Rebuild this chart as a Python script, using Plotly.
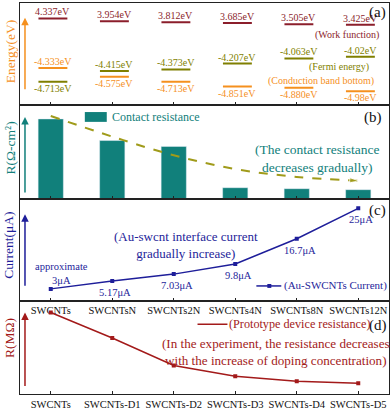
import plotly.graph_objects as go

# ---- data ----
categories_c = ["SWCNTs", "SWCNTsN", "SWCNTs2N", "SWCNTs4N", "SWCNTs8N", "SWCNTs12N"]
categories_d = ["SWCNTs", "SWCNTs-D1", "SWCNTs-D2", "SWCNTs-D3", "SWCNTs-D4", "SWCNTs-D5"]

work_function = [4.337, 3.954, 3.812, 3.685, 3.505, 3.425]
fermi_energy = [-4.713, -4.415, -4.373, -4.207, -4.063, -4.02]
cb_bottom = [-4.333, -4.575, -4.713, -4.851, -4.880, -4.98]
wf_labels = ["4.337eV", "3.954eV", "3.812eV", "3.685eV", "3.505eV", "3.425eV"]
fermi_labels = ["-4.713eV", "-4.415eV", "-4.373eV", "-4.207eV", "-4.063eV", "-4.02eV"]
cb_labels = ["-4.333eV", "-4.575eV", "-4.713eV", "-4.851eV", "-4.880eV", "-4.98eV"]

contact_res = [8.1, 5.9, 5.3, 1.1, 1.0, 0.9]
contact_trend = [8.4, 6.3, 4.4, 3.0, 2.2, 1.8]

current_ua = [3, 5.17, 7.03, 9.8, 16.7, 25]
current_labels = ["approximate<br>3μA", "5.17μA", "7.03μA", "9.8μA", "16.7μA", "25μA"]

device_res = [8.3, 5.7, 2.9, 1.8, 1.3, 1.1]

# ---- styling ----
FONT = "Liberation Serif"
ORANGE = "#F5901E"
OLIVE = "#7F7F00"
TREND = "#A09B1A"
WF_RED = "#8B1E2B"
TEAL = "#11807B"
NAVY = "#1E1E9A"
DRED = "#A31A1A"
FRAME = "#222222"

W, H = 392, 412
ML, MR, MT, MB = 20, 2, 2, 12


def px(x, y):
    # pixel -> paper coords
    return (x - ML) / (W - ML - MR), (H - MB - y) / (H - MT - MB)


def segments(vals, left=-0.2, right=0.27):
    x, y = [], []
    for i, v in enumerate(vals):
        x += [i + left, i + right, None]
        y += [v, v, None]
    return x, y


xs = list(range(len(work_function)))
fig = go.Figure()

# (a) energy levels
sx, sy = segments(work_function)
fig.add_trace(go.Scatter(x=sx, y=sy, mode="lines", line=dict(color=WF_RED, width=2),
                         xaxis="x", yaxis="y2"))
sx, sy = segments(fermi_energy)
fig.add_trace(go.Scatter(x=sx, y=sy, mode="lines", line=dict(color=OLIVE, width=2),
                         xaxis="x", yaxis="y"))
sx, sy = segments(cb_bottom)
fig.add_trace(go.Scatter(x=sx, y=sy, mode="lines", line=dict(color=ORANGE, width=2),
                         xaxis="x", yaxis="y"))

# (b) contact resistance
fig.add_trace(go.Bar(x=xs, y=contact_res, width=0.41, marker_color=TEAL,
                     xaxis="x2", yaxis="y3"))
fig.add_trace(go.Scatter(x=xs, y=contact_trend, mode="lines+markers",
                         line=dict(color=TREND, width=2, dash="dash", shape="spline"),
                         marker=dict(symbol="arrow", angleref="previous", color=TREND,
                                     size=[0, 0, 0, 0, 0, 9]),
                         xaxis="x2", yaxis="y3"))

# (c) current
fig.add_trace(go.Scatter(x=xs, y=current_ua, mode="lines+markers",
                         line=dict(color=NAVY, width=1.5),
                         marker=dict(symbol="square", size=4, color=NAVY),
                         xaxis="x3", yaxis="y4"))

# (d) device resistance
fig.add_trace(go.Scatter(x=xs, y=device_res, mode="lines+markers",
                         line=dict(color=DRED, width=1.5),
                         marker=dict(symbol="square", size=4, color=DRED),
                         xaxis="x4", yaxis="y5"))

# ---- axes ----
doms = {"a": [0.7387, 1.0], "b": [0.5, 0.7387], "c": [0.2387, 0.5], "d": [0.0, 0.2387]}
xbase = dict(domain=[0, 1], range=[-0.5, 5.5], tickvals=xs, ticks="inside", ticklen=3,
             tickcolor=FRAME, showline=True, mirror=True, linecolor=FRAME, linewidth=1,
             showgrid=False, zeroline=False, showticklabels=False,
             tickfont=dict(family=FONT, size=10.5, color="#111"))
ybase = dict(showline=True, mirror=True, linecolor=FRAME, linewidth=1, showgrid=False,
             zeroline=False, showticklabels=False, ticks="")

fig.update_layout(
    xaxis=dict(xbase, anchor="y"),
    yaxis=dict(ybase, domain=doms["a"], anchor="x", range=[-5.370, -2.516]),
    yaxis2=dict(overlaying="y", anchor="x", range=[-8.025, 6.541], visible=False),
    xaxis2=dict(xbase, anchor="y3"),
    yaxis3=dict(ybase, domain=doms["b"], anchor="x2", range=[0, 9.5]),
    xaxis3=dict(xbase, anchor="y4", showticklabels=True, ticktext=categories_c),
    yaxis4=dict(ybase, domain=doms["c"], anchor="x3", range=[-0.22, 27.68]),
    xaxis4=dict(xbase, anchor="y5", showticklabels=True, ticktext=categories_d),
    yaxis5=dict(ybase, domain=doms["d"], anchor="x4", range=[0, 9.5]),
)

ann = []


def text(x, y, s, color, size, xanchor="center", **kw):
    px_, py_ = px(x, y)
    ann.append(dict(x=px_, y=py_, xref="paper", yref="paper", text=s, showarrow=False,
                    xanchor=xanchor, yanchor="middle",
                    font=dict(family=FONT, size=size, color=color), **kw))


def level_label(x, y, yref, s, color, above):
    ann.append(dict(x=x, y=y, xref="x", yref=yref, text=s, showarrow=False,
                    xanchor="center", yanchor="bottom" if above else "top",
                    yshift=-1 if above else 1,
                    font=dict(family=FONT, size=10, color=color)))


# level labels in (a)
for i in xs:
    level_label(i + 0.035, work_function[i], "y2", wf_labels[i], WF_RED, True)
    level_label(i + 0.035, fermi_energy[i], "y", fermi_labels[i], OLIVE, i != 0)
    level_label(i + 0.035, cb_bottom[i], "y", cb_labels[i], ORANGE, i == 0)

text(348, 35, "(Work function)", WF_RED, 10)
text(340, 67, "(Fermi energy)", OLIVE, 10)
text(322, 81, "(Conduction band bottom)", ORANGE, 10)

# current value labels in (c)
for i in xs:
    first = i == 0
    ann.append(dict(x=i, y=current_ua[i], xref="x3", yref="y4", text=current_labels[i],
                    showarrow=False, xanchor="center",
                    yanchor="bottom" if first else "top",
                    yshift=1 if first else -4, xshift=11 if first else 3,
                    font=dict(family=FONT, size=10.5, color=NAVY)))

# notes / legends
text(110, 118, "Contact resistance", TEAL, 12, xanchor="left")
text(318, 160, "(The contact resistance<br>decreases gradually)", TEAL, 13.5)
text(186, 248, "(Au-swcnt interface current<br>gradually increase)", NAVY, 13)
text(283, 290, "(Au-SWCNTs Current)", NAVY, 11, xanchor="left")
text(228, 329, "(Prototype device resistance)", DRED, 12.2, xanchor="left")
text(277, 357, "(In the experiment, the resistance decreases<br>with the increase of doping concentration)",
     DRED, 13.1)

# panel letters
text(378, 12, "(a)", "#111", 15)
text(374, 119, "(b)", "#111", 15)
text(378, 213, "(c)", "#111", 15)
text(379, 330, "(d)", "#111", 15)

# axis titles
text(10, 52, "Energy(eV)", ORANGE, 13.5, textangle=-90)
text(10, 150, "R(Ω-cm²)", TEAL, 13.5, textangle=-90)
text(9, 249, "Current(μA)", NAVY, 13.5, textangle=-90)
text(9, 343, "R(MΩ)", DRED, 13.5, textangle=-90)

# upward arrows beside each panel
for top, bottom, col in [(17, 90, ORANGE), (118, 195, TEAL), (217, 290, NAVY), (317, 392, DRED)]:
    ax_, ay_ = px(25, top)
    ann.append(dict(x=ax_, y=ay_, xref="paper", yref="paper", text="", showarrow=True,
                    ax=0, ay=bottom - top, arrowhead=2, arrowsize=1, arrowwidth=1.5,
                    arrowcolor=col))

# legend glyphs
shapes = []
x0, y0 = px(85, 113)
x1, y1 = px(107, 123)
shapes.append(dict(type="rect", xref="paper", yref="paper", x0=x0, y0=y0, x1=x1, y1=y1,
                   fillcolor=TEAL, line=dict(width=0)))
x0, y0 = px(257, 290)
x1, _ = px(282, 290)
shapes.append(dict(type="line", xref="paper", yref="paper", x0=x0, y0=y0, x1=x1, y1=y0,
                   line=dict(color=NAVY, width=1.5)))
x0, y0 = px(268, 288)
x1, y1 = px(272, 292)
shapes.append(dict(type="rect", xref="paper", yref="paper", x0=x0, y0=y0, x1=x1, y1=y1,
                   fillcolor=NAVY, line=dict(width=0)))
x0, y0 = px(198, 329)
x1, _ = px(228, 329)
shapes.append(dict(type="line", xref="paper", yref="paper", x0=x0, y0=y0, x1=x1, y1=y0,
                   line=dict(color=DRED, width=1.5)))

fig.update_layout(
    width=W, height=H,
    margin=dict(l=ML, r=MR, t=MT, b=MB),
    showlegend=False,
    plot_bgcolor="white",
    paper_bgcolor="white",
    font=dict(family=FONT),
    annotations=ann,
    shapes=shapes,
)

# the page body has a default 8px margin; drop it so the figure fills the window
fig.write_html("out.html", config={"displayModeBar": False},
               post_script="document.body.style.margin='0px';")
